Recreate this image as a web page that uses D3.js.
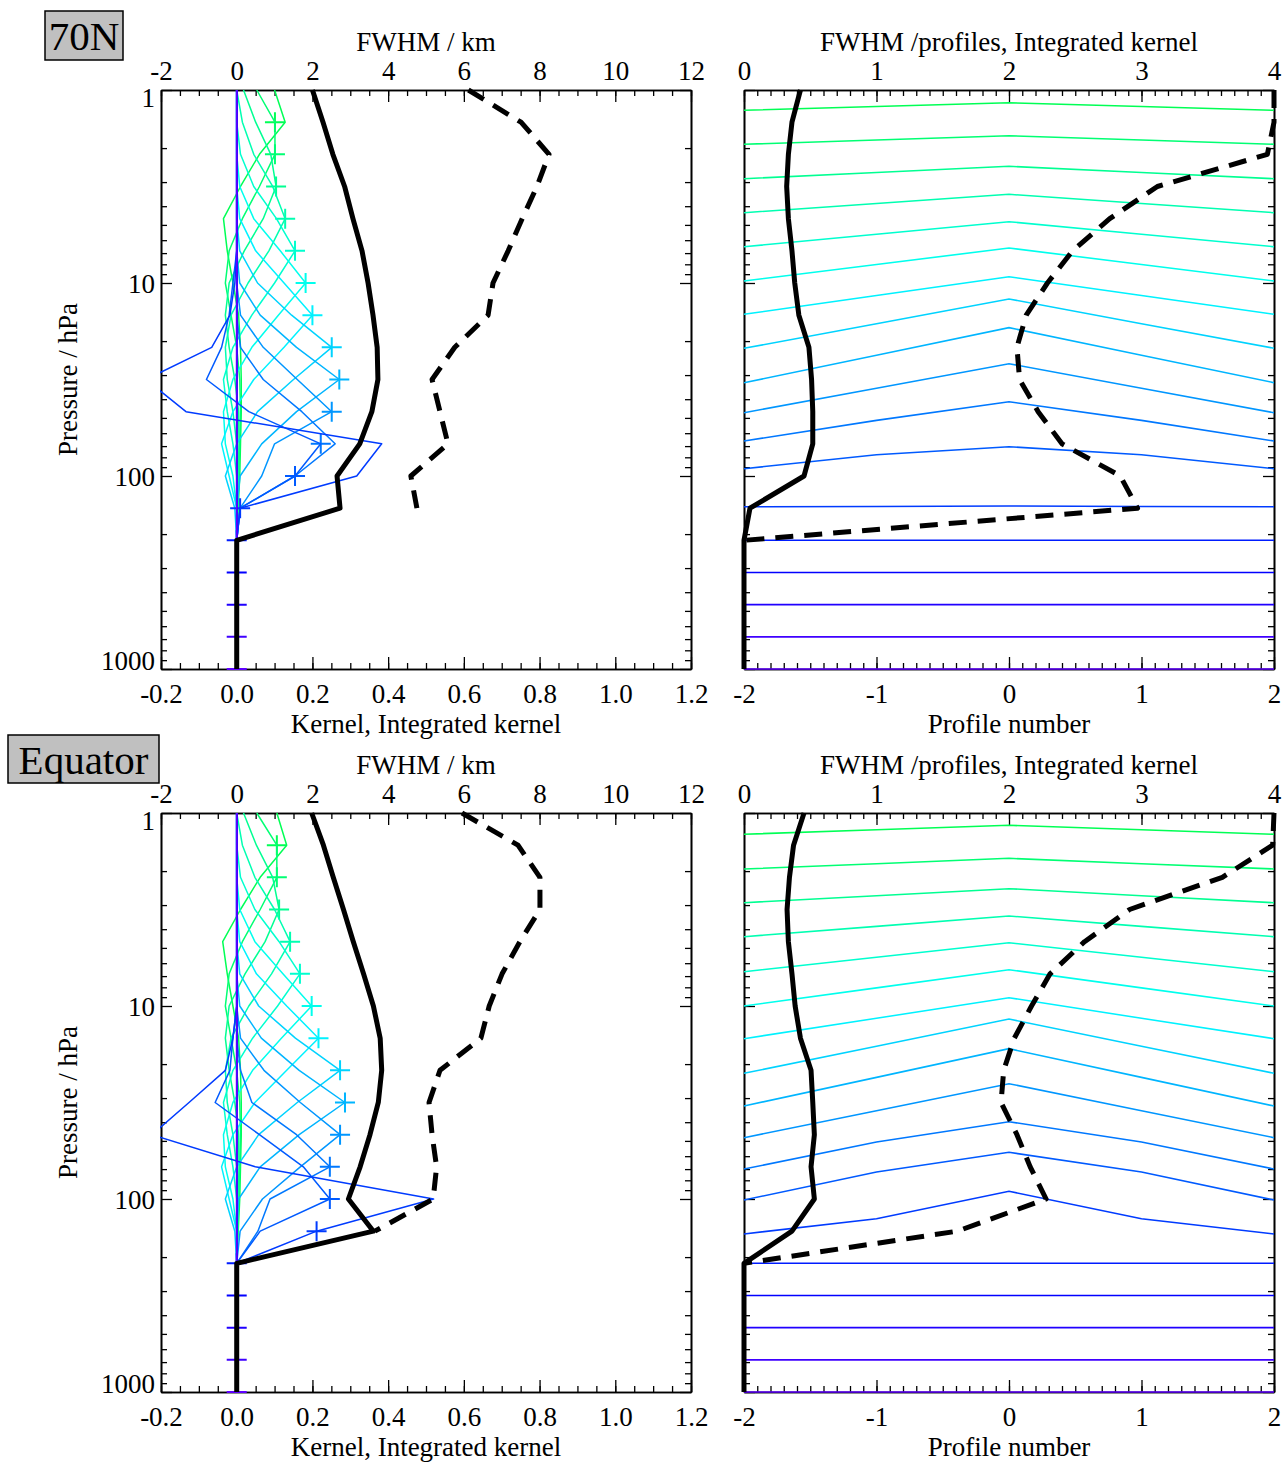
<!DOCTYPE html>
<html>
<head>
<meta charset="utf-8">
<script src="https://cdn.jsdelivr.net/npm/d3@7"></script>
<style>
  html, body { margin: 0; padding: 0; background: #fff; }
  svg { display: block; }
</style>
</head>
<body>
<svg id="chart" width="1288" height="1462"></svg>
<script>
// ---------------------------------------------------------------
// Retrieval levels (hPa): six per decade, 1 .. 1000 hPa
const levels = [1, 1.468, 2.154, 3.162, 4.642, 6.813, 10, 14.68, 21.54, 31.62,
                46.42, 68.13, 100, 146.8, 215.4, 316.2, 464.2, 681.3, 1000];

// Profile numbers along track (right panels)
const profiles = [-2, -1, 0, 1, 2];

// Axis tick labels
const kernelTicks = [-0.2, 0, 0.2, 0.4, 0.6, 0.8, 1.0, 1.2];
const fwhmKmTicks = [-2, 0, 2, 4, 6, 8, 10, 12];
const profileTicks = [-2, -1, 0, 1, 2];
const fwhmProfTicks = [0, 1, 2, 3, 4];
const pressureTicks = [1, 10, 100, 1000];

// ---------------- 70N ----------------
// Vertical averaging kernels, one row per nominal level 1..18, values on levels[0..18]
const kernels70N = [
  [0.100, 0.128, 0.060, 0.010, -0.035, -0.025, -0.010, 0.005, 0.010, 0.012, 0.012, 0.010, 0.008, 0.004, 0, 0, 0, 0, 0],
  [0.053, 0.101, 0.101, 0.060, 0.015, -0.020, -0.030, -0.015, 0.000, 0.008, 0.010, 0.008, 0.005, 0.002, 0, 0, 0, 0, 0],
  [0.018, 0.050, 0.090, 0.104, 0.070, 0.020, -0.020, -0.030, -0.020, -0.005, 0.005, 0.006, 0.004, 0.002, 0, 0, 0, 0, 0],
  [0.000, 0.015, 0.045, 0.095, 0.128, 0.085, 0.030, -0.015, -0.030, -0.025, -0.010, 0.000, 0.003, 0.002, 0, 0, 0, 0, 0],
  [0.000, 0.000, 0.010, 0.045, 0.105, 0.154, 0.100, 0.040, -0.010, -0.035, -0.025, -0.010, 0.000, 0.002, 0, 0, 0, 0, 0],
  [0.000, 0.000, 0.000, 0.008, 0.045, 0.115, 0.182, 0.110, 0.040, -0.010, -0.035, -0.030, -0.010, 0.000, 0, 0, 0, 0, 0],
  [0.000, 0.000, 0.000, 0.000, 0.008, 0.050, 0.125, 0.200, 0.125, 0.045, -0.010, -0.040, -0.020, 0.000, 0, 0, 0, 0, 0],
  [0.000, 0.000, 0.000, 0.000, 0.000, 0.008, 0.055, 0.145, 0.251, 0.150, 0.055, 0.000, -0.030, -0.005, 0, 0, 0, 0, 0],
  [0, 0, 0, 0, 0, 0, 0.008, 0.062, 0.158, 0.271, 0.158, 0.066, 0.009, 0.000, 0, 0, 0, 0, 0],
  [0, 0, 0, 0, 0, 0, 0, 0.010, 0.070, 0.160, 0.251, 0.100, 0.066, 0.009, 0, 0, 0, 0, 0],
  [0, 0, 0, 0, 0, 0, 0, 0.000, 0.010, 0.070, 0.172, 0.260, 0.154, 0.009, 0, 0, 0, 0, 0],
  [0, 0, 0, 0, 0, 0, -0.010, -0.020, -0.040, -0.080, 0.032, 0.222, 0.154, 0.009, 0, 0, 0, 0, 0],
  [0, 0, 0, 0, 0, 0, -0.005, -0.018, -0.066, -0.240, -0.134, 0.383, 0.317, 0.009, 0, 0, 0, 0, 0],
  [0, 0, 0, 0, 0, 0, 0, 0, 0, 0, 0, 0, 0, 0, 0, 0, 0, 0, 0],
  [0, 0, 0, 0, 0, 0, 0, 0, 0, 0, 0, 0, 0, 0, 0, 0, 0, 0, 0],
  [0, 0, 0, 0, 0, 0, 0, 0, 0, 0, 0, 0, 0, 0, 0, 0, 0, 0, 0],
  [0, 0, 0, 0, 0, 0, 0, 0, 0, 0, 0, 0, 0, 0, 0, 0, 0, 0, 0],
  [0, 0, 0, 0, 0, 0, 0, 0, 0, 0, 0, 0, 0, 0, 0, 0, 0, 0, 0]
];
// Diagonal value marked with "+" for nominal levels 1..18
const diag70N = [0.101, 0.101, 0.104, 0.128, 0.154, 0.182, 0.200, 0.251, 0.271,
                 0.251, 0.222, 0.154, 0.009, 0, 0, 0, 0, 0];
// Integrated vertical kernel on levels[0..18]
const intKernel70N = [0.200, 0.228, 0.254, 0.285, 0.307, 0.331, 0.347, 0.360, 0.371, 0.373,
                      0.357, 0.325, 0.265, 0.273, 0, 0, 0, 0, 0];
// Vertical FWHM (km) on levels[0..13]
const fwhmKm70N = [6.12, 7.51, 8.25, 7.93, 7.54, 7.17, 6.77, 6.64, 5.76, 5.16, 5.37, 5.58, 4.60, 4.76];
// Horizontal kernels: pressure (hPa) of each line at profiles -2..2
const hKernels70N = [
  [1.274, 1.218, 1.164, 1.218, 1.274],
  [1.911, 1.816, 1.725, 1.816, 1.911],
  [2.882, 2.676, 2.485, 2.676, 2.882],
  [4.323, 3.874, 3.471, 3.874, 4.323],
  [6.486, 5.587, 4.813, 5.587, 6.486],
  [9.763, 8.020, 6.588, 8.020, 9.763],
  [14.53, 11.61, 9.277, 11.61, 14.53],
  [21.79, 16.25, 12.10, 16.25, 21.79],
  [32.86, 23.67, 17.04, 23.67, 32.86],
  [46.99, 35.09, 26.19, 35.09, 46.99],
  [65.87, 51.50, 41.21, 51.50, 65.87],
  [91.66, 77.60, 70.50, 77.60, 91.66],
  [144.3, 143.9, 143.0, 143.9, 144.3],
  [215.4, 215.4, 215.4, 215.4, 215.4],
  [316.2, 316.2, 316.2, 316.2, 316.2],
  [464.2, 464.2, 464.2, 464.2, 464.2],
  [681.3, 681.3, 681.3, 681.3, 681.3],
  [1000, 1000, 1000, 1000, 1000]
];
// Integrated horizontal kernel on levels[0..18]
const hIntKernel70N = [0.426, 0.362, 0.335, 0.322, 0.335, 0.362, 0.383, 0.414, 0.490, 0.510,
                       0.519, 0.519, 0.453, 0.045, 0, 0, 0, 0, 0];
// Horizontal FWHM (profiles) on levels[0..14]
const fwhmProf70N = [4.00, 4.00, 3.95, 3.12, 2.76, 2.48, 2.29, 2.13, 2.06, 2.08, 2.22, 2.40, 2.84, 2.97, 0.00];

// ---------------- Equator ----------------
const kernelsEq = [
  [0.106, 0.132, 0.062, 0.010, -0.037, -0.025, -0.010, 0.005, 0.010, 0.012, 0.012, 0.010, 0.008, 0.004, 0, 0, 0, 0, 0],
  [0.053, 0.106, 0.106, 0.062, 0.015, -0.020, -0.030, -0.015, 0.000, 0.008, 0.010, 0.008, 0.005, 0.002, 0, 0, 0, 0, 0],
  [0.018, 0.052, 0.095, 0.112, 0.075, 0.022, -0.020, -0.030, -0.020, -0.005, 0.005, 0.006, 0.004, 0.002, 0, 0, 0, 0, 0],
  [0.000, 0.015, 0.048, 0.100, 0.141, 0.092, 0.032, -0.015, -0.030, -0.025, -0.010, 0.000, 0.003, 0.002, 0, 0, 0, 0, 0],
  [0, 0, 0.010, 0.048, 0.112, 0.167, 0.108, 0.042, -0.010, -0.035, -0.025, -0.010, 0.000, 0.002, 0, 0, 0, 0, 0],
  [0, 0, 0, 0.008, 0.048, 0.122, 0.198, 0.118, 0.042, -0.010, -0.035, -0.030, -0.010, 0.000, 0, 0, 0, 0, 0],
  [0, 0, 0, 0, 0.008, 0.052, 0.132, 0.216, 0.132, 0.048, -0.010, -0.040, -0.020, 0.000, 0, 0, 0, 0, 0],
  [0, 0, 0, 0, 0, 0.008, 0.058, 0.155, 0.273, 0.160, 0.058, 0.000, -0.030, -0.005, 0, 0, 0, 0, 0],
  [0, 0, 0, 0, 0, 0, 0.008, 0.065, 0.165, 0.286, 0.165, 0.062, 0.005, 0.000, 0, 0, 0, 0, 0],
  [0, 0, 0, 0, 0, 0, 0, 0.010, 0.072, 0.168, 0.273, 0.168, 0.068, 0.009, 0, 0, 0, 0, 0],
  [0, 0, 0, 0, 0, 0, 0, 0.000, 0.010, 0.040, 0.158, 0.246, 0.088, 0.056, 0, 0, 0, 0, 0],
  [0, 0, 0, 0, 0, 0, 0, -0.010, -0.018, -0.057, 0.060, 0.176, 0.246, 0.062, 0, 0, 0, 0, 0],
  [0, 0, 0, 0, 0, 0, 0, -0.010, -0.030, -0.126, -0.224, 0.049, 0.520, 0.211, 0, 0, 0, 0, 0],
  [0, 0, 0, 0, 0, 0, 0, 0, 0, 0, 0, 0, 0, 0, 0, 0, 0, 0, 0],
  [0, 0, 0, 0, 0, 0, 0, 0, 0, 0, 0, 0, 0, 0, 0, 0, 0, 0, 0],
  [0, 0, 0, 0, 0, 0, 0, 0, 0, 0, 0, 0, 0, 0, 0, 0, 0, 0, 0],
  [0, 0, 0, 0, 0, 0, 0, 0, 0, 0, 0, 0, 0, 0, 0, 0, 0, 0, 0],
  [0, 0, 0, 0, 0, 0, 0, 0, 0, 0, 0, 0, 0, 0, 0, 0, 0, 0, 0]
];
const diagEq = [0.106, 0.106, 0.112, 0.141, 0.167, 0.198, 0.216, 0.273, 0.286,
                0.273, 0.246, 0.246, 0.211, 0, 0, 0, 0, 0];
const intKernelEq = [0.198, 0.229, 0.255, 0.282, 0.308, 0.335, 0.361, 0.379, 0.383, 0.374,
                     0.352, 0.326, 0.295, 0.361, 0, 0, 0, 0, 0];
const fwhmKmEq = [5.95, 7.43, 8.01, 8.01, 7.48, 7.01, 6.67, 6.45, 5.37, 5.08, 5.16, 5.28, 5.19, 3.65];
const hKernelsEq = [
  [1.289, 1.222, 1.158, 1.222, 1.289],
  [1.950, 1.831, 1.717, 1.831, 1.950],
  [2.916, 2.683, 2.467, 2.683, 2.916],
  [4.374, 3.869, 3.418, 3.869, 4.374],
  [6.643, 5.587, 4.699, 5.587, 6.643],
  [10.00, 8.059, 6.486, 8.059, 10.00],
  [14.77, 11.57, 9.058, 11.57, 14.77],
  [22.33, 16.16, 11.68, 16.16, 22.33],
  [32.97, 23.44, 16.64, 23.44, 32.97],
  [48.13, 34.87, 25.27, 34.87, 48.13],
  [69.94, 50.66, 39.77, 50.66, 69.94],
  [101.2, 72.45, 57.28, 72.45, 101.2],
  [151.8, 126.5, 91.23, 126.5, 151.8],
  [215.4, 215.4, 215.4, 215.4, 215.4],
  [316.2, 316.2, 316.2, 316.2, 316.2],
  [464.2, 464.2, 464.2, 464.2, 464.2],
  [681.3, 681.3, 681.3, 681.3, 681.3],
  [1000, 1000, 1000, 1000, 1000]
];
const hIntKernelEq = [0.453, 0.374, 0.343, 0.325, 0.335, 0.362, 0.386, 0.426, 0.506, 0.519,
                      0.531, 0.506, 0.531, 0.362, 0, 0, 0, 0, 0];
const fwhmProfEq = [4.00, 3.99, 3.61, 2.91, 2.57, 2.31, 2.17, 2.04, 1.96, 1.94, 2.06, 2.16, 2.28, 1.61, 0.00];

// ---------------------------------------------------------------
const FONT = '"Liberation Serif", "Times New Roman", Times, serif';
const FS = 27;
const svg = d3.select("#chart");
const leftX = [161, 691];
const rightX = [744, 1274];

// colour per nominal level: green at the top through cyan and blue to violet at the surface
const hue = d3.scaleLinear().domain([0, 17]).range([140, 262]);
const levelColor = i => d3.hsl(hue(i), 1, 0.5).formatHex();

const rows = [
  { label: "70N", box: [45, 11, 78, 49], labelY: 50, top: 90, bottom: 669,
    kernels: kernels70N, diag: diag70N, intK: intKernel70N, fwhmKm: fwhmKm70N,
    hKernels: hKernels70N, hIntK: hIntKernel70N, fwhmProf: fwhmProf70N },
  { label: "Equator", box: [8, 735, 151, 48], labelY: 774, top: 813, bottom: 1392,
    kernels: kernelsEq, diag: diagEq, intK: intKernelEq, fwhmKm: fwhmKmEq,
    hKernels: hKernelsEq, hIntK: hIntKernelEq, fwhmProf: fwhmProfEq }
];

function styleAxis(sel) {
  sel.attr("font-family", FONT).attr("font-size", FS);
  sel.selectAll("path.domain").attr("stroke", "#000").attr("stroke-width", 1.6);
  sel.selectAll(".tick line").attr("stroke", "#000").attr("stroke-width", 1.3);
  sel.selectAll(".tick text").attr("fill", "#000");
}

const logMinors = [];
[1, 10, 100].forEach(d => { for (let m = 2; m <= 9; m++) logMinors.push(m * d); });

function frame(g, xB, xT, y, opt) {
  const [x0, x1] = xB.range();
  const [y0, y1] = y.range();
  // bottom axis
  g.append("g").attr("transform", `translate(0,${y1})`)
    .call(d3.axisBottom(xB).tickValues(opt.bMinor).tickSize(-6).tickSizeOuter(0).tickFormat(""))
    .call(styleAxis);
  const b = g.append("g").attr("transform", `translate(0,${y1})`)
    .call(d3.axisBottom(xB).tickValues(opt.bTicks).tickSize(-12).tickSizeOuter(0).tickFormat(opt.bFmt))
    .call(styleAxis);
  b.selectAll(".tick text").attr("y", 34).attr("dy", null);
  // top axis
  g.append("g").attr("transform", `translate(0,${y0})`)
    .call(d3.axisTop(xT).tickValues(opt.tMinor).tickSize(-6).tickSizeOuter(0).tickFormat(""))
    .call(styleAxis);
  const t = g.append("g").attr("transform", `translate(0,${y0})`)
    .call(d3.axisTop(xT).tickValues(opt.tTicks).tickSize(-12).tickSizeOuter(0).tickFormat(opt.tFmt))
    .call(styleAxis);
  t.selectAll(".tick text").attr("y", -10).attr("dy", null);
  // left axis
  g.append("g").attr("transform", `translate(${x0},0)`)
    .call(d3.axisLeft(y).tickValues(logMinors).tickSize(-6).tickSizeOuter(0).tickFormat(""))
    .call(styleAxis);
  const l = g.append("g").attr("transform", `translate(${x0},0)`)
    .call(d3.axisLeft(y).tickValues(pressureTicks).tickSize(-11).tickSizeOuter(0)
      .tickFormat(opt.yLabels ? d3.format("d") : ""))
    .call(styleAxis);
  l.selectAll(".tick text").attr("x", -6).attr("dy", null)
    .attr("y", d => Math.max(y0 + 16, Math.min(y1, y(d) + 9)) - y(d));
  // right axis
  g.append("g").attr("transform", `translate(${x1},0)`)
    .call(d3.axisRight(y).tickValues(logMinors).tickSize(-6).tickSizeOuter(0).tickFormat(""))
    .call(styleAxis);
  g.append("g").attr("transform", `translate(${x1},0)`)
    .call(d3.axisRight(y).tickValues(pressureTicks).tickSize(-11).tickSizeOuter(0).tickFormat(""))
    .call(styleAxis);
  // titles
  const cx = (x0 + x1) / 2;
  g.append("text").attr("x", cx).attr("y", y0 - 39).attr("text-anchor", "middle")
    .attr("font-family", FONT).attr("font-size", FS).text(opt.tTitle);
  g.append("text").attr("x", cx).attr("y", y1 + 64).attr("text-anchor", "middle")
    .attr("font-family", FONT).attr("font-size", FS).text(opt.bTitle);
}

function clipRect(id, x0, x1, y0, y1, pad) {
  svg.append("clipPath").attr("id", id).append("rect")
    .attr("x", x0 - pad).attr("y", y0 - pad)
    .attr("width", x1 - x0 + 2 * pad).attr("height", y1 - y0 + 2 * pad);
  return `url(#${id})`;
}

rows.forEach((r, ri) => {
  const y = d3.scaleLog().domain([1, 1000]).range([r.top, r.bottom]);
  const xK = d3.scaleLinear().domain([-0.2, 1.2]).range(leftX);
  const xKm = d3.scaleLinear().domain([-2, 12]).range(leftX);
  const xP = d3.scaleLinear().domain([-2, 2]).range(rightX);
  const xF = d3.scaleLinear().domain([0, 4]).range(rightX);

  // ---------- left panel: vertical kernels ----------
  const gl = svg.append("g");
  frame(gl, xK, xKm, y, {
    bTicks: kernelTicks, bMinor: d3.range(-0.2, 1.2001, 0.05), bFmt: d => d.toFixed(1),
    tTicks: fwhmKmTicks, tMinor: d3.range(-2, 12.001, 0.5), tFmt: d => String(d),
    yLabels: true, tTitle: "FWHM / km", bTitle: "Kernel, Integrated kernel"
  });
  gl.append("text")
    .attr("transform", `translate(77,${(r.top + r.bottom) / 2}) rotate(-90)`)
    .attr("text-anchor", "middle").attr("font-family", FONT).attr("font-size", FS)
    .text("Pressure / hPa");

  const clipL = clipRect(`clipL${ri}`, leftX[0], leftX[1], r.top, r.bottom, 1);
  const clipLw = clipRect(`clipLw${ri}`, leftX[0], leftX[1], r.top, r.bottom, 3);
  const kLine = d3.line().x(v => xK(v)).y((v, i) => y(levels[i]));
  const plotL = gl.append("g").attr("clip-path", clipL);
  r.kernels.forEach((row, k) => {
    const col = levelColor(k);
    plotL.append("path").attr("d", kLine(row))
      .attr("fill", "none").attr("stroke", col).attr("stroke-width", 1.5)
      .attr("stroke-linejoin", "round");
    const cx = xK(r.diag[k]), cy = y(levels[k + 1]);
    plotL.append("path").attr("d", `M${cx - 10},${cy}H${cx + 10}M${cx},${cy - 10}V${cy + 10}`)
      .attr("stroke", col).attr("stroke-width", 2).attr("fill", "none");
  });
  const thickL = gl.append("g").attr("clip-path", clipLw);
  thickL.append("path")
    .attr("d", d3.line().x(v => xK(v)).y((v, i) => y(levels[i]))(r.intK))
    .attr("fill", "none").attr("stroke", "#000").attr("stroke-width", 5)
    .attr("stroke-linejoin", "round");
  thickL.append("path")
    .attr("d", d3.line().x(v => xKm(v)).y((v, i) => y(levels[i]))(r.fwhmKm))
    .attr("fill", "none").attr("stroke", "#000").attr("stroke-width", 5)
    .attr("stroke-dasharray", "18,11").attr("stroke-linejoin", "round");

  // ---------- right panel: horizontal kernels ----------
  const gr = svg.append("g");
  frame(gr, xP, xF, y, {
    bTicks: profileTicks, bMinor: d3.range(-2, 2.001, 0.1), bFmt: d => String(d),
    tTicks: fwhmProfTicks, tMinor: d3.range(0, 4.001, 0.1), tFmt: d => String(d),
    yLabels: false, tTitle: "FWHM /profiles, Integrated kernel", bTitle: "Profile number"
  });

  const clipR = clipRect(`clipR${ri}`, rightX[0], rightX[1], r.top, r.bottom, 1);
  const clipRw = clipRect(`clipRw${ri}`, rightX[0], rightX[1], r.top, r.bottom, 3);
  const hLine = d3.line().x((p, i) => xP(profiles[i])).y(p => y(p));
  const plotR = gr.append("g").attr("clip-path", clipR);
  r.hKernels.forEach((row, k) => {
    plotR.append("path").attr("d", hLine(row))
      .attr("fill", "none").attr("stroke", levelColor(k)).attr("stroke-width", 1.6);
  });
  const thickR = gr.append("g").attr("clip-path", clipRw);
  thickR.append("path")
    .attr("d", d3.line().x(v => xF(v)).y((v, i) => y(levels[i]))(r.hIntK))
    .attr("fill", "none").attr("stroke", "#000").attr("stroke-width", 5)
    .attr("stroke-linejoin", "round");
  thickR.append("path")
    .attr("d", d3.line().x(v => xF(v)).y((v, i) => y(levels[i]))(r.fwhmProf))
    .attr("fill", "none").attr("stroke", "#000").attr("stroke-width", 5)
    .attr("stroke-dasharray", "18,11").attr("stroke-linejoin", "round");

  // ---------- region label ----------
  const [bx, by, bw, bh] = r.box;
  svg.append("rect").attr("x", bx).attr("y", by).attr("width", bw).attr("height", bh)
    .attr("fill", "#c0c0c0").attr("stroke", "#000").attr("stroke-width", 1.5);
  svg.append("text").attr("x", bx + bw / 2).attr("y", r.labelY).attr("text-anchor", "middle")
    .attr("font-family", FONT).attr("font-size", 41).text(r.label);
});
</script>
</body>
</html>
